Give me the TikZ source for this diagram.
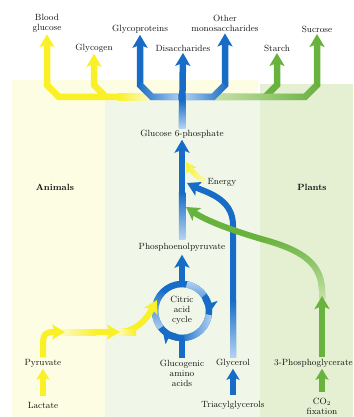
\documentclass[tikz,border=0pt]{standalone}
\usetikzlibrary{arrows.meta,fadings}
\definecolor{dblue}{RGB}{22,108,198}
\definecolor{lblue}{RGB}{180,210,242}
\definecolor{dyel}{RGB}{250,240,40}
\definecolor{lyel}{RGB}{252,250,205}
\definecolor{dgreen}{RGB}{104,178,62}
\definecolor{lgreen}{RGB}{205,228,175}
\definecolor{panY}{RGB}{253,253,228}
\definecolor{panM}{RGB}{240,247,232}
\definecolor{panG}{RGB}{229,239,210}
\tikzfading[name=fN, top color=transparent!0, bottom color=transparent!100]
\tikzfading[name=fS, top color=transparent!100, bottom color=transparent!0]
\tikzfading[name=fE, left color=transparent!100, right color=transparent!0]
\tikzfading[name=fW, left color=transparent!0, right color=transparent!100]
\tikzset{
  lbl/.style={font=\fontsize{9}{10}\selectfont, align=center, inner sep=1.5pt, text=black!92},
  hd/.style={font=\bfseries\fontsize{9}{10}\selectfont, inner sep=1.5pt, text=black!92},
  headA/.style={-{Stealth[length=13pt,width=15pt,inset=3pt]}},
  headB/.style={-{Stealth[length=11pt,width=13pt,inset=2.5pt]}},
  headC/.style={-{Stealth[length=10pt,width=11pt,inset=2pt]}},
  topY/.style={draw=dyel, line width=6.5pt},
  topG/.style={draw=dgreen, line width=6.5pt},
  topB/.style={draw=dblue, line width=6.5pt},
  mainB/.style={draw=dblue, line width=6.5pt},
  glyB/.style={draw=dblue, line width=6pt},
  grn/.style={draw=dgreen, line width=6pt},
  lowY/.style={draw=dyel, line width=6pt},
  cyB/.style={draw=dblue, line width=6.5pt},
}
\begin{document}
\begin{tikzpicture}[x=1pt,y=-1pt]
\useasboundingbox (0,0) rectangle (353,417);
% panels
\fill[panY] (12,80) rectangle (258,417);
\fill[panM] (105,99) rectangle (260,417);
\fill[panG] (260,84) rectangle (353,417);
% labels
\node[lbl] (bg) at (47,23.5) {Blood\\glucose};
\node[lbl] (gly) at (94,48) {Glycogen};
\node[lbl] (gp) at (140,29) {Glycoproteins};
\node[lbl] (dis) at (183,48) {Disaccharides};
\node[lbl] (om) at (225,23.5) {Other\\monosaccharides};
\node[lbl] (st) at (277,48) {Starch};
\node[lbl] (suc) at (317,29) {Sucrose};
\node[lbl] (g6p) at (182,134) {Glucose 6-phosphate};
\node[lbl] (en) at (222,182) {Energy};
\node[hd] (ani) at (55,187) {Animals};
\node[hd] (pla) at (312,187) {Plants};
\node[lbl] (pep) at (182,247) {Phosphoenolpyruvate};
\node[lbl] (cac) at (182,310) {Citric\\acid\\cycle};
\node[lbl] (gaa) at (182,373) {Glucogenic\\amino\\acids};
\node[lbl] (glyc) at (233,363) {Glycerol};
\node[lbl] (pga) at (313.5,363) {3-Phosphoglycerate};
\node[lbl] (pyr) at (43,363) {Pyruvate};
\node[lbl] (lac) at (43,405) {Lactate};
\node[lbl] (tag) at (233,405) {Triacylglycerols};
\node[lbl] (co2) at (322,406) {CO$_2$\\fixation};
% named points
\coordinate (jc) at (182,97);
\coordinate (btip) at (187,183);
\coordinate (gtip) at (186,207);
\coordinate (gtail) at (322,299);
\coordinate (gup) at (322,296);
\coordinate (etip) at (186,162);
\coordinate (cc) at (182,311);
\coordinate (ctop) at (182,285);
\coordinate (cbot) at (182,338);
\coordinate (ytip) at (157,300);
% top yellow branches
\draw[topY, headA] (150,97) -- (59,97) -- (47,85) -- (bg.south);
\draw[topY, headA] (106,97) -- (94,85) -- (gly.south);
\shade[left color=dyel, right color=lyel] (118,93.75) rectangle (150,100.25);
% top green branches
\draw[topG, headA] (213,97) -- (305,97) -- (317,85) -- (suc.south);
\draw[topG, headA] (265,97) -- (277,85) -- (st.south);
\draw[draw=lgreen, line width=6.5pt, path fading=fW] (213,97) -- (305,97) -- (317,85);
% top blue branches
\draw[topB, headA] (jc) -- (152,97) -- (140,85) -- (gp.south);
\draw[topB, headA] (jc) -- (213,97) -- (225,85) -- (om.south);
\draw[draw=lblue, line width=6.5pt, path fading=fE] (178.5,97) -- (152,97) -- (140,85);
\draw[draw=lblue, line width=6.5pt, path fading=fW] (185.5,97) -- (213,97) -- (225,85);
% main line
\draw[mainB, headA] (g6p.north) -- (dis.south);
\shade[top color=dblue, bottom color=lblue] (178.75,100.25) rectangle (185.25,128);
\draw[mainB, headA, shorten <=2pt] (pep.north) -- (g6p.south);
\shade[top color=dblue, bottom color=lblue] (178.75,192) rectangle (185.25,239.2);
% citric acid cycle
\draw[cyB] (gaa.north) -- (cbot);
\draw[cyB] (cc) circle[radius=27];
\draw[draw=lblue, line width=6.5pt, path fading=fE] (cc) ++(8:27) arc[start angle=8, end angle=85, radius=27];
\draw[draw=lblue, line width=6.5pt, path fading=fS] (cc) ++(142:27) arc[start angle=142, end angle=225, radius=27];
\draw[draw=lblue, line width=6.5pt, path fading=fN] (cc) ++(-80:27) arc[start angle=-80, end angle=-35, radius=27];
\draw[cyB, headA] (cc) ++(-30:27) arc[start angle=-30, end angle=5, radius=27];
\draw[cyB, headA] (cc) ++(100:27) arc[start angle=100, end angle=137, radius=27];
\draw[mainB, headA, shorten >=2pt] (ctop) -- (pep.south);
% glycerol
\draw[glyB, headA] (glyc.north) -- (233,225) .. controls (233,198) and (205,192) .. (btip);
\shade[top color=dblue, bottom color=lblue] (230,300) rectangle (236,357.1);
\draw[glyB, headB, shorten <=4pt] (tag.north) -- (glyc.south);
% plants: 3-phosphoglycerate
\draw[grn, headA] (gtail) -- (322,290) .. controls (321,262) and (300,250) .. (265,240) .. controls (230,230) and (205,220) .. (gtip);
\draw[draw=lgreen, line width=6pt, path fading=fS] (gtail) -- (322,290) .. controls (321,262) and (300,250) .. (265,240);
\draw[grn, headA] (pga.north -| gup) -- (gup);
\draw[grn, headB, shorten <=4pt] (co2.north) -- (pga.south -| co2.north);
% animals: lactate, pyruvate
\draw[lowY, headB, shorten <=4pt] (lac.north) -- (pyr.south);
\draw[lowY, headA] (118,332) .. controls (136,332) and (146,320) .. (ytip);
\shade[left color=lyel, right color=dyel] (116,329) rectangle (136,335);
\draw[lowY, headA] (63,332) -- (120,332);
\shade[left color=lyel, right color=dyel] (61,329) rectangle (96,335);
\draw[lowY, headA] (pyr.north) -- (43,345) .. controls (43,334) and (45,332) .. (65,332);
% energy
\draw[draw=dyel, line width=5pt, headC, shorten <=2pt] (en.west) .. controls (197,177) and (191,170) .. (etip);
\draw[draw=lyel, line width=5pt, path fading=fE, shorten <=2pt] (en.west) .. controls (197,177) and (191,170) .. (etip);
\end{tikzpicture}
\end{document}
